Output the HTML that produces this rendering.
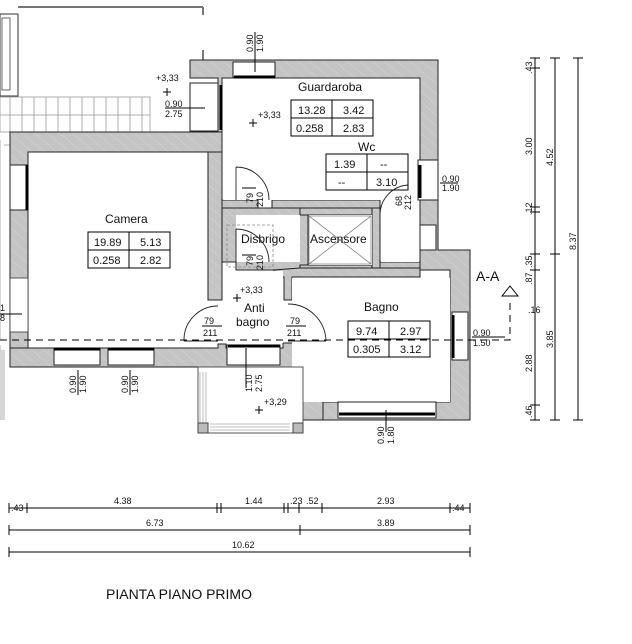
<!DOCTYPE html>
<html><head><meta charset="utf-8"><style>
html,body{margin:0;padding:0;background:#fff}
svg{display:block}
text{font-family:"Liberation Sans",sans-serif;fill:#111}
</style></head><body>
<svg width="632" height="644" viewBox="0 0 632 644" xmlns="http://www.w3.org/2000/svg">
<defs>
<pattern id="h" width="8" height="8" patternUnits="userSpaceOnUse" patternTransform="rotate(-50)">
<rect width="8" height="8" fill="#c4c4c4"/><line x1="0" y1="0" x2="0" y2="8" stroke="#d8d8d8" stroke-width="0.8"/>
</pattern>
</defs>
<rect x="0" y="14" width="18" height="82" fill="none" stroke="#333"/>
<rect x="2" y="18" width="8" height="72" fill="none" stroke="#666"/>
<line x1="18" y1="7" x2="203" y2="7" stroke="#777" stroke-width="2"/>
<line x1="203" y1="7" x2="203" y2="15" stroke="#777" stroke-width="2"/>
<line x1="203" y1="50" x2="203" y2="60" stroke="#777" stroke-width="2"/>
<g stroke="#999" stroke-width="0.8" fill="none">
<rect x="0" y="97" width="150" height="35"/>
<line x1="0" y1="115" x2="150" y2="115"/>
<path d="M10 97V132M22 97V132M34 97V132M46 97V132M58 97V132M70 97V132M82 97V132M94 97V132M106 97V132M118 97V132M130 97V132M142 97V132"/>
<path d="M0 140V340M4 145H10M0 345V420M2 350V420M4 350V420"/>
</g>
<g fill="url(#h)" stroke="#222" stroke-width="1">
<path d="M10 132H222V152H28V348H10Z"/>
<rect x="208" y="152" width="14" height="148"/>
<path d="M190 60H438V250H470V420H323V402H450V270H420V78H222V132H190V83H218V78H190Z"/>
<path d="M222 200H236V208H300V215H308V265H300V270H236V262H222Z"/>
<rect x="300" y="208" width="80" height="7"/>
<rect x="372" y="208" width="8" height="62"/>
<rect x="300" y="265" width="72" height="6"/>
<rect x="380" y="262" width="40" height="8"/>
<path d="M222 200H258V208H222Z"/>
<path d="M272 200H380V208H272Z"/>
<path d="M300 268H420V277H292V300H284V277H274V270Z"/>
<path d="M10 348H218V344H226V348H283V343H323V420H298V367H10Z"/>
</g>
<rect x="10" y="278" width="18" height="54" fill="#fff" stroke="#333" stroke-width="0.8"/>
<rect x="236" y="215" width="64" height="47" fill="#fff"/>
<rect x="309" y="215" width="63" height="50" fill="#fff"/>
<rect x="381" y="215" width="38" height="47" fill="#fff"/>
<rect x="223" y="79" width="196" height="121" fill="#fff"/>
<rect x="292" y="278" width="158" height="124" fill="#fff"/>
<rect x="223" y="271" width="60" height="72" fill="#fff"/>
<g stroke="#888" stroke-width="0.8" fill="none">
<rect x="309" y="216" width="62" height="48"/>
<line x1="309" y1="216" x2="371" y2="264"/><line x1="371" y1="216" x2="309" y2="264"/>
<rect x="227" y="225" width="46" height="42" stroke-dasharray="3,2"/>
</g>
<g fill="#fff" stroke="#222">
<rect x="233" y="62" width="42" height="15"/>
<rect x="190" y="83" width="28" height="48"/>
<rect x="418" y="160" width="20" height="40"/>
<rect x="420" y="225" width="16" height="25"/>
<rect x="452" y="312" width="16" height="48"/>
<rect x="10" y="165" width="18" height="45"/>
<rect x="54" y="348" width="46" height="17"/>
<rect x="108" y="348" width="46" height="17"/>
<rect x="227" y="345" width="53" height="20"/>
<rect x="338" y="402" width="98" height="16"/>
</g>
<g stroke="#000" stroke-width="3">
<line x1="234" y1="77" x2="275" y2="77"/><line x1="221" y1="85" x2="221" y2="130"/>
<line x1="420" y1="165" x2="420" y2="198"/><line x1="453" y1="315" x2="453" y2="358"/>
<line x1="27" y1="165" x2="27" y2="210"/><line x1="54" y1="349" x2="100" y2="349"/>
<line x1="108" y1="349" x2="154" y2="349"/><line x1="228" y1="346" x2="280" y2="346"/>
<line x1="339" y1="414" x2="435" y2="414"/>
</g>
<rect x="198" y="367" width="105" height="66" fill="#fff" stroke="#555"/>
<g stroke="#aaa" stroke-width="0.8"><path d="M200 372V430M203 372V430M206 372V430M210 424H290M210 427H290M210 430H290"/></g>
<rect x="198" y="423" width="10" height="10" fill="#bbb" stroke="#444"/><rect x="293" y="423" width="10" height="10" fill="#bbb" stroke="#444"/>
<g fill="none" stroke="#222" stroke-width="0.9">
<path d="M236 167V200M236 167A33 33 0 0 1 269 200"/>
<path d="M236 229V262M236 229A33 33 0 0 1 269 262"/>
<path d="M380 215A30 30 0 0 1 408 185"/>
<path d="M184 341H218M184 341A34 34 0 0 1 218 306"/>
<path d="M288 341H326M288 304A38 38 0 0 1 326 341"/>
</g>
<path d="M0 340H510V298" fill="none" stroke="#000" stroke-dasharray="7,5"/>
<path d="M502 296L510 286L518 296Z" fill="#fff" stroke="#000"/>
<text x="476" y="281" font-size="14">A-A</text>
<g fill="none" stroke="#000">
<rect x="291" y="100" width="82" height="36"/><line x1="291" y1="118" x2="373" y2="118"/><line x1="332" y1="100" x2="332" y2="136"/>
<rect x="326" y="154" width="82" height="36"/><line x1="326" y1="172" x2="408" y2="172"/><line x1="367" y1="154" x2="367" y2="190"/>
<rect x="88" y="232" width="82" height="36"/><line x1="88" y1="250" x2="170" y2="250"/><line x1="129" y1="232" x2="129" y2="268"/>
<rect x="348" y="321" width="82" height="36"/><line x1="348" y1="339" x2="430" y2="339"/><line x1="389" y1="321" x2="389" y2="357"/>
</g>
<g font-size="11">
<text x="298" y="114">13.28</text><text x="343" y="114">3.42</text><text x="296" y="132">0.258</text><text x="343" y="132">2.83</text>
<text x="334" y="168">1.39</text><text x="380" y="168">--</text><text x="338" y="186">--</text><text x="376" y="186">3.10</text>
<text x="94" y="246">19.89</text><text x="140" y="246">5.13</text><text x="93" y="264">0.258</text><text x="140" y="264">2.82</text>
<text x="356" y="335">9.74</text><text x="400" y="335">2.97</text><text x="353" y="353">0.305</text><text x="400" y="353">3.12</text>
</g>
<g font-size="12">
<text x="298" y="91">Guardaroba</text><text x="358" y="151">Wc</text><text x="105" y="223">Camera</text>
<text x="241" y="243">Disbrigo</text><text x="310" y="243">Ascensore</text>
<text x="244" y="312">Anti</text><text x="236" y="326">bagno</text><text x="364" y="311">Bagno</text>
</g>
<g font-size="9">
<text x="156" y="81">+3,33</text><text x="258" y="118">+3,33</text><text x="240" y="293">+3,33</text><text x="264" y="405">+3,29</text>
<text x="165" y="107">0.90</text><text x="165" y="117">2.75</text><text x="473" y="336">0.90</text><text x="473" y="346">1.50</text>
<text x="442" y="182">0.90</text><text x="442" y="191">1.90</text>
<text x="204" y="324">79</text><text x="203" y="336">211</text>
<text x="290" y="324">79</text><text x="287" y="336">211</text>
<text x="0" y="311">1</text><text x="0" y="321">8</text>
</g>
<g stroke="#000" stroke-width="1">
<path d="M163 92h8M167 88v8"/><path d="M249 123h8M253 119v8"/><path d="M233 298h8M237 294v8"/><path d="M255 410h8M259 406v8"/>
<path d="M165 108H205M472 337H505M440 183H458M202 326h20M286 326h20M0 314h22"/>
<path d="M255 32V72M78 370V395M130 370V395M386 410V432M246 348V388M242 188H256M242 255H256"/>
</g>
<g font-size="9">
<text transform="translate(253 52) rotate(-90)">0.90</text><text transform="translate(263 52) rotate(-90)">1.90</text>
<text transform="translate(76 393) rotate(-90)">0.90</text><text transform="translate(86 393) rotate(-90)">1.90</text>
<text transform="translate(128 393) rotate(-90)">0.90</text><text transform="translate(138 393) rotate(-90)">1.90</text>
<text transform="translate(384 444) rotate(-90)">0.90</text><text transform="translate(394 444) rotate(-90)">1.80</text>
<text transform="translate(252 392) rotate(-90)">1.10</text><text transform="translate(262 392) rotate(-90)">2.75</text>
<text transform="translate(253 203) rotate(-90)">79</text><text transform="translate(263 207) rotate(-90)">210</text>
<text transform="translate(253 266) rotate(-90)">79</text><text transform="translate(263 270) rotate(-90)">210</text>
<text transform="translate(402 206) rotate(-90)">68</text><text transform="translate(411 210) rotate(-90)">212</text>
</g>
<g stroke="#000" stroke-width="1">
<path d="M535 58V420M555 58V420M578 58V420"/>
<path d="M530 58h10M530 68h10M530 207h10M530 212h10M530 254h10M530 270h10M530 405h10M530 420h10M550 58h10M550 254h10M550 420h10M573 58h10M573 420h10"/>
<path d="M9 508H470M9 530H470M9 552H470"/>
<path d="M9 503v10M27 503v10M217 503v10M221 503v10M284 503v10M288 503v10M299 503v10M322 503v10M450 503v10M470 503v10M9 525v10M300 525v10M470 525v10M9 547v10M470 547v10"/>
</g>
<g font-size="9">
<text transform="translate(532 74) rotate(-90)">.43</text><text transform="translate(532 155) rotate(-90)">3.00</text>
<text transform="translate(532 215) rotate(-90)">.12</text><text transform="translate(532 268) rotate(-90)">.35</text>
<text transform="translate(532 285) rotate(-90)">.87</text><text x="528" y="313">.16</text>
<text transform="translate(532 372) rotate(-90)">2.88</text><text transform="translate(532 418) rotate(-90)">.46</text>
<text transform="translate(553 166) rotate(-90)">4.52</text><text transform="translate(553 348) rotate(-90)">3.85</text>
<text transform="translate(576 250) rotate(-90)">8.37</text>
<text x="11" y="511">.43</text><text x="114" y="504">4.38</text><text x="245" y="504">1.44</text><text x="290" y="504">.23</text><text x="306" y="504">.52</text><text x="377" y="504">2.93</text><text x="452" y="511">.44</text>
<text x="146" y="526">6.73</text><text x="377" y="526">3.89</text><text x="232" y="548">10.62</text>
</g>
<text x="106" y="599" font-size="14">PIANTA PIANO PRIMO</text>
</svg>
</body></html>
